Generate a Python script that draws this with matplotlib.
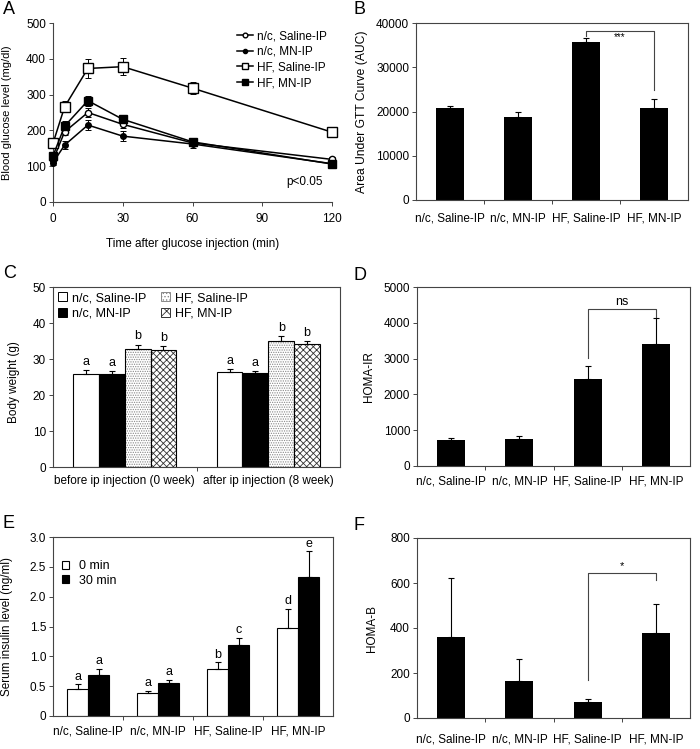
import matplotlib
matplotlib.use('Agg')
import matplotlib.pyplot as plt
import numpy as np
from matplotlib.patches import Patch
from matplotlib.lines import Line2D

plt.rcParams['font.family'] = ['Liberation Sans', 'DejaVu Sans']
plt.rcParams['font.size'] = 8.5
plt.rcParams['hatch.linewidth'] = 0.6

groups = ['n/c, Saline-IP', 'n/c, MN-IP', 'HF, Saline-IP', 'HF, MN-IP']

# ---- Panel A: glucose tolerance ----
time_min = [0, 5, 15, 30, 60, 120]
nc_sal = [117, 196, 250, 217, 165, 119]
nc_sal_err = [8, 10, 12, 10, 8, 6]
nc_mn = [110, 159, 215, 184, 162, 107]
nc_mn_err = [8, 10, 15, 13, 12, 8]
hf_sal = [164, 266, 373, 378, 318, 195]
hf_sal_err = [10, 15, 26, 24, 17, 8]
hf_mn = [129, 212, 283, 231, 168, 106]
hf_mn_err = [10, 15, 14, 8, 8, 8]

# ---- Panel B: AUC ----
auc = [20700, 18800, 35600, 20900]
auc_err = [500, 1200, 1100, 2000]

# ---- Panel C: body weight ----
weight_periods = ['before ip injection (0 week)', 'after ip injection (8 week)']
bw_nc_sal = [25.9, 26.4]
bw_nc_sal_err = [1.0, 0.9]
bw_nc_mn = [25.9, 26.1]
bw_nc_mn_err = [0.7, 0.6]
bw_hf_sal = [32.9, 35.1]
bw_hf_sal_err = [1.1, 1.2]
bw_hf_mn = [32.4, 34.2]
bw_hf_mn_err = [1.1, 0.8]
bw_letters = ['a', 'a', 'b', 'b']

# ---- Panel D: HOMA-IR ----
homa_ir = [720, 765, 2425, 3405]
homa_ir_err = [75, 75, 375, 730]

# ---- Panel E: serum insulin ----
ins_0 = [0.46, 0.39, 0.79, 1.47]
ins_0_err = [0.07, 0.03, 0.11, 0.32]
ins_30 = [0.69, 0.55, 1.19, 2.33]
ins_30_err = [0.10, 0.06, 0.12, 0.43]
ins_letters_0 = ['a', 'a', 'b', 'd']
ins_letters_30 = ['a', 'a', 'c', 'e']

# ---- Panel F: HOMA-B ----
homa_b = [361, 164, 73, 378]
homa_b_err = [260, 98, 11, 129]

W, H = 700, 749
fig = plt.figure(figsize=(W / 100, H / 100), dpi=100)
SPC = '#444444'
FS = 8.5


def ax_px(l, t, r, b):
    return fig.add_axes([l / W, 1 - b / H, (r - l) / W, (b - t) / H])


def style(ax, box=True):
    for s in ax.spines.values():
        s.set_color(SPC)
        s.set_linewidth(0.8)
    if not box:
        ax.spines['top'].set_visible(False)
        ax.spines['right'].set_visible(False)
    ax.tick_params(axis='y', length=3, width=0.7, pad=2, color=SPC, labelsize=FS)


def cat_axis(ax, labels, pad):
    n = len(labels)
    ax.set_xlim(-0.5, n - 0.5)
    ax.set_xticks(range(n))
    ax.set_xticklabels(labels)
    ax.set_xticks(np.arange(0.5, n - 0.5, 1), minor=True)
    ax.tick_params(axis='x', which='major', length=0, pad=pad, labelsize=FS)
    ax.tick_params(axis='x', which='minor', length=3, width=0.7, color=SPC)


def bracket(ax, x1, x2, ytop, y1, y2, text, tsize=8, tdy=0):
    ax.plot([x1, x1, x2, x2], [y1, ytop, ytop, y2], color=SPC, lw=0.8)
    ax.text((x1 + x2) / 2, ytop + tdy, text, ha='center', va='bottom', fontsize=tsize)


ekw = dict(ecolor='black', elinewidth=0.8, capsize=2, capthick=0.8)

# ===== A =====
axA = ax_px(53, 23, 332, 202)
style(axA, box=False)
series = [
    (nc_sal, nc_sal_err, 'o', 'white', 4.5, groups[0]),
    (nc_mn, nc_mn_err, 'o', 'black', 4, groups[1]),
    (hf_sal, hf_sal_err, 's', 'white', 6.5, groups[2]),
    (hf_mn, hf_mn_err, 's', 'black', 6, groups[3]),
]
handles = []
for y, e, m, fc, ms, lab in series:
    c = axA.errorbar(time_min, y, yerr=e, marker=m, mfc=fc, mec='black', ms=ms,
                     color='black', lw=1.1, ecolor='black', elinewidth=0.7,
                     capsize=2, capthick=0.7, clip_on=False, zorder=3)
    c.lines[0].set_clip_on(False)
    handles.append(Line2D([0], [0], marker=m, mfc=fc, mec='black', ms=ms * 0.75,
                          color='black', lw=1.1, label=lab))
axA.set_xlim(0, 120)
axA.set_ylim(0, 500)
axA.set_xticks([0, 30, 60, 90, 120])
axA.set_yticks([0, 100, 200, 300, 400, 500])
axA.tick_params(axis='x', length=3, width=0.7, pad=5, color=SPC, labelsize=FS)
axA.set_xlabel('Time after glucose injection (min)', fontsize=FS)
axA.xaxis.set_label_coords(0.5, -0.2)
axA.set_ylabel('Blood glucose level (mg/dl)', fontsize=8)
axA.yaxis.set_label_coords(-0.147, 0.5)
axA.legend(handles=handles, loc='upper right', bbox_to_anchor=(1.0, 0.985),
           frameon=False, fontsize=8.5, handlelength=1.3, handletextpad=0.4,
           labelspacing=0.3, borderaxespad=0)
axA.text(0.9, 0.11, 'p<0.05', transform=axA.transAxes, ha='center', va='center', fontsize=FS)

x4 = np.arange(4)
bw = 0.41

# ===== B =====
axB = ax_px(416, 23, 688, 200)
style(axB)
axB.bar(x4, auc, width=bw, color='black', yerr=[np.zeros(4), auc_err],
        error_kw=ekw)
axB.set_ylim(0, 40000)
axB.set_yticks([0, 10000, 20000, 30000, 40000])
cat_axis(axB, groups, pad=9)
axB.set_ylabel('Area Under GTT Curve (AUC)', fontsize=8.7)
axB.yaxis.set_label_coords(-0.176, 0.5)
bracket(axB, 2, 3, 38200, 37100, 24900, '***', tsize=7, tdy=-2600)

# ===== C =====
axC = ax_px(53, 287, 340, 467)
style(axC)
xc = np.arange(2)
cw = 0.18
offs = np.array([-1.5, -0.5, 0.5, 1.5]) * cw
c_vals = [bw_nc_sal, bw_nc_mn, bw_hf_sal, bw_hf_mn]
c_errs = [bw_nc_sal_err, bw_nc_mn_err, bw_hf_sal_err, bw_hf_mn_err]
c_fc = ['white', 'black', 'white', 'white']
c_hatch = [None, None, '.......', 'xxxxx']
c_hc = ['black', 'black', '#888888', '#333333']
for i in range(4):
    xs = xc + offs[i]
    if c_hatch[i]:
        axC.bar(xs, c_vals[i], width=cw, color='white', edgecolor=c_hc[i],
                hatch=c_hatch[i], linewidth=0)
        axC.bar(xs, c_vals[i], width=cw, fill=False, edgecolor='black', linewidth=0.8,
                yerr=[np.zeros(2), c_errs[i]], error_kw=ekw)
    else:
        axC.bar(xs, c_vals[i], width=cw, color=c_fc[i], edgecolor='black', linewidth=0.8,
                yerr=[np.zeros(2), c_errs[i]], error_kw=ekw)
    for j in range(2):
        axC.text(xs[j], c_vals[i][j] + c_errs[i][j] + 0.6, bw_letters[i],
                 ha='center', va='bottom', fontsize=9)
axC.set_ylim(0, 50)
axC.set_yticks([0, 10, 20, 30, 40, 50])
cat_axis(axC, weight_periods, pad=5.5)
axC.set_ylabel('Body weight (g)', fontsize=FS)
axC.yaxis.set_label_coords(-0.115, 0.47)
c_handles = [
    Patch(facecolor='white', edgecolor='black', lw=0.7, label=groups[0]),
    Patch(facecolor='black', edgecolor='black', lw=0.7, label=groups[1]),
    Patch(facecolor='white', edgecolor='#888888', hatch='.....', lw=0.7, label=groups[2]),
    Patch(facecolor='white', edgecolor='#333333', hatch='xxx', lw=0.7, label=groups[3]),
]
axC.legend(handles=c_handles, ncol=2, loc='upper left', bbox_to_anchor=(0.0, 1.0),
           frameon=False, fontsize=9, handlelength=0.7, handleheight=0.7,
           handletextpad=0.4, columnspacing=1.2, labelspacing=0.3, borderaxespad=0.2,
           borderpad=0.2)

# ===== D =====
axD = ax_px(417, 287, 690, 466)
style(axD)
axD.bar(x4, homa_ir, width=bw, color='black', yerr=[np.zeros(4), homa_ir_err],
        error_kw=ekw)
axD.set_ylim(0, 5000)
axD.set_yticks([0, 1000, 2000, 3000, 4000, 5000])
cat_axis(axD, groups, pad=6.5)
axD.set_ylabel('HOMA-IR', fontsize=FS)
axD.yaxis.set_label_coords(-0.154, 0.5)
bracket(axD, 2, 3, 4385, 3020, 4165, 'ns', tsize=9, tdy=40)

# ===== E =====
axE = ax_px(53, 537, 333, 716)
style(axE)
ew = 0.3
axE.bar(x4 - ew / 2, ins_0, width=ew, color='white', edgecolor='black', linewidth=0.8,
        yerr=[np.zeros(4), ins_0_err], error_kw=ekw, label='0 min')
axE.bar(x4 + ew / 2, ins_30, width=ew, color='black', edgecolor='black', linewidth=0.8,
        yerr=[np.zeros(4), ins_30_err], error_kw=ekw, label='30 min')
for i in range(4):
    axE.text(x4[i] - ew / 2, ins_0[i] + ins_0_err[i] + 0.03, ins_letters_0[i],
             ha='center', va='bottom', fontsize=9)
    axE.text(x4[i] + ew / 2, ins_30[i] + ins_30_err[i] + 0.03, ins_letters_30[i],
             ha='center', va='bottom', fontsize=9)
axE.set_ylim(0, 3.0)
axE.set_yticks([0, 0.5, 1.0, 1.5, 2.0, 2.5, 3.0])
axE.set_yticklabels(['0', '0.5', '1.0', '1.5', '2.0', '2.5', '3.0'])
cat_axis(axE, groups, pad=6.5)
axE.set_ylabel('Serum insulin level (ng/ml)', fontsize=FS)
axE.yaxis.set_label_coords(-0.143, 0.5)
axE.legend(loc='upper left', bbox_to_anchor=(0.0, 0.92), frameon=False, fontsize=9,
           handlelength=0.6, handleheight=0.6, handletextpad=0.8, labelspacing=0.2,
           borderaxespad=0.3)

# ===== F =====
axF = ax_px(417, 538, 690, 718)
style(axF)
axF.bar(x4, homa_b, width=bw, color='black', yerr=[np.zeros(4), homa_b_err],
        error_kw=ekw)
axF.set_ylim(0, 800)
axF.set_yticks([0, 200, 400, 600, 800])
cat_axis(axF, groups, pad=11)
axF.set_ylabel('HOMA-B', fontsize=FS)
axF.yaxis.set_label_coords(-0.143, 0.5)
bracket(axF, 2, 3, 644, 170, 613, '*', tsize=8, tdy=10)

# panel letters
for lab, (px, py) in zip('ABCDEF', [(3, 10), (353, 10), (3, 274), (353, 276), (3, 524), (353, 526)]):
    fig.text(px / W, 1 - py / H, lab, fontsize=13, ha='left', va='center')

fig.savefig('out.png', dpi=100)
